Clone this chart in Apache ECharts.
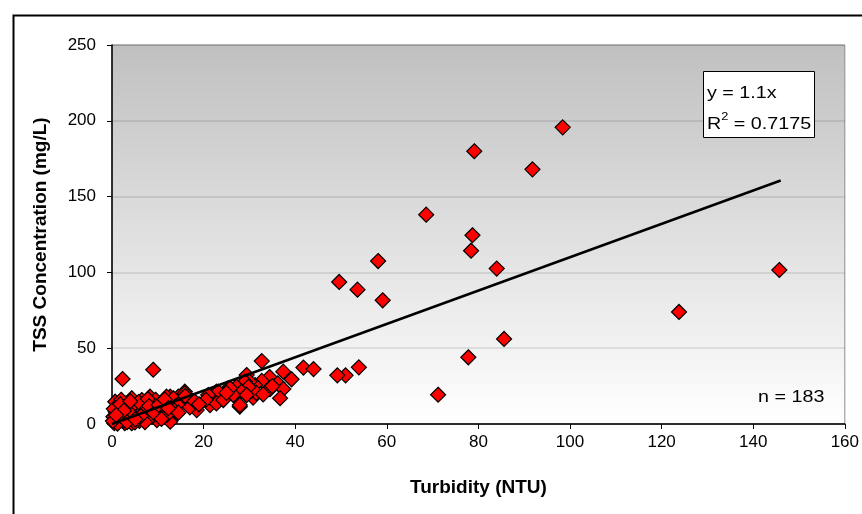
<!DOCTYPE html>
<html>
<head>
<meta charset="utf-8">
<script src="https://cdn.jsdelivr.net/npm/echarts@6/dist/echarts.min.js"></script>
<style>html,body{margin:0;padding:0;background:#fff}#c{width:862px;height:514px}</style>
</head>
<body>
<div id="c"></div>
<script>
const xTicks = [0, 20, 40, 60, 80, 100, 120, 140, 160];
const yTicks = [0, 50, 100, 150, 200, 250];
const slope = 1.1;
const trendX = [0, 146];
const tssPoints = [
  [98.4,195.7],[79.1,179.9],[91.8,168.0],[68.6,138.1],[78.7,124.5],[78.4,114.3],[84.0,102.5],[145.7,101.6],[123.8,73.9],[85.6,56.1],[77.8,44.0],[71.2,19.3],
  [58.1,107.5],[49.6,93.7],[53.6,88.6],[59.1,81.6],[53.9,37.4],[51.0,32.1],[49.2,32.1],
  [32.7,41.5],[41.8,37.2],[44.0,36.2],[37.4,34.5],[34.4,31.0],[39.2,29.5],[32.7,28.4],[36.2,26.8],[37.4,23.1],[34.5,23.0],[36.7,17.0],[30.8,17.4],[27.9,11.4],[31.2,25.7],[29.4,32.3],[30.0,28.0],[29.0,27.9],[30.5,22.0],[31.5,20.5],[29.8,24.5],[33.0,19.5],[35.0,25.0],
  [27.2,24.6],[28.3,21.3],[26.5,19.1],[29.4,19.1],[27.9,12.5],[25.4,23.5],[25.8,23.5],[23.9,17.0],[22.8,21.3],[23.2,21.3],[21.0,19.1],[21.4,12.5],[22.8,13.6],[24.3,15.8],[18.5,9.2],[20.5,16.0],[25.0,20.5],
  [15.9,21.3],[14.5,18.0],[13.0,17.0],[15.9,20.2],[12.7,18.0],[11.9,18.0],[13.4,17.0],[11.9,11.4],[11.2,8.1],[12.7,2.6],[12.7,1.5],[14.0,12.0],[15.0,14.5],[16.5,16.0],[17.0,11.0],[13.5,9.0],[10.5,5.0],[11.0,14.0],[10.0,9.5],[12.0,6.0],[14.5,7.5],[16.0,18.5],[18.0,15.0],[19.0,13.0],
  [2.3,29.7],[9.0,35.8],[0.7,14.7],[4.3,17.0],[6.5,15.8],[8.3,18.0],[1.7,11.4],[3.2,10.3],[5.4,10.3],[7.6,10.3],[9.8,11.4],[4.7,4.8],[7.6,3.7],[9.8,2.6],[1.0,1.5],[2.8,0.5],[4.3,0.5],[0.3,4.8],[1.7,7.0],[0.5,0.5],[1.5,3.0],[2.5,2.0],[3.5,6.0],[5.5,7.5],[6.0,2.0],[7.0,6.5],[8.5,8.0],[9.0,13.5],[8.0,14.0],[6.0,12.5],[3.0,13.5],[2.0,16.0],[5.0,1.0],[0.8,8.0],[1.2,0.2],[0.2,2.0],[3.8,3.5],[4.8,12.0],[6.8,9.0],[8.8,5.0],[7.2,1.2],[2.2,5.5],[9.5,16.0],[5.8,14.5],[3.6,8.2],[0.4,10.0],[1.8,13.0],[6.3,5.3],[4.0,15.0],[7.8,16.5],[2.6,8.8],[0.9,5.9],[3.3,1.2],[5.1,3.1],[8.1,11.8],[9.2,7.1],[10.2,12.6],[11.5,16.2],[12.3,10.4],[10.8,3.3]
];
const eqText = 'y = 1.1x';
const r2Value = '0.7175';
const nText = 'n = 183';

const trendLine = trendX.map(x => [x, +(slope * x).toFixed(2)]);
const font = 'Liberation Sans, Arial, sans-serif';

const chart = echarts.init(document.getElementById('c'));
chart.setOption({
  animation: false,
  backgroundColor: '#ffffff',
  grid: {
    left: 112, top: 45, right: 17, bottom: 90,
    show: true,
    borderColor: '#8c8c8c', borderWidth: 1,
    backgroundColor: {
      type: 'linear', x: 0, y: 0, x2: 0, y2: 1,
      colorStops: [{offset: 0, color: '#c0c0c0'}, {offset: 1, color: '#ffffff'}]
    }
  },
  xAxis: {
    type: 'value', min: 0, max: 160, interval: 20,
    name: 'Turbidity (NTU)', nameLocation: 'middle', nameGap: 54,
    nameTextStyle: {fontFamily: font, fontSize: 19, fontWeight: 'bold', color: '#000'},
    axisLine: {show: true, onZero: false, lineStyle: {color: '#000', width: 1.5}},
    axisTick: {show: true, length: 5, lineStyle: {color: '#000'}},
    axisLabel: {fontFamily: font, fontSize: 17, color: '#000', margin: 10,
      formatter: v => xTicks.includes(v) ? String(v) : ''},
    splitLine: {show: false}
  },
  yAxis: {
    type: 'value', min: 0, max: 250, interval: 50,
    name: 'TSS Concentration (mg/L)', nameLocation: 'middle', nameGap: 62, nameRotate: 90,
    nameTextStyle: {fontFamily: font, fontSize: 19, fontWeight: 'bold', color: '#000'},
    axisLine: {show: true, onZero: false, lineStyle: {color: '#000', width: 1.5}},
    axisTick: {show: true, length: 5, lineStyle: {color: '#000'}},
    axisLabel: {fontFamily: font, fontSize: 17, color: '#000', margin: 16,
      formatter: v => yTicks.includes(v) ? String(v) : ''},
    splitLine: {show: true, lineStyle: {color: 'rgba(0,0,0,0.12)', width: 1.5}}
  },
  series: [
    {
      type: 'scatter', data: tssPoints, symbol: 'diamond', symbolSize: 15,
      itemStyle: {color: '#ff0000', borderColor: '#000', borderWidth: 1.2, opacity: 1},
      z: 2, clip: false
    },
    {
      type: 'line', data: trendLine, showSymbol: false, symbol: 'none',
      lineStyle: {color: '#000', width: 2.5}, z: 3
    }
  ],
  graphic: [
    {type: 'rect', left: 11, top: 13, shape: {width: 900, height: 600},
     style: {fill: 'none', stroke: '#000', lineWidth: 2}, z: 100, silent: true},
    {type: 'rect', left: 703, top: 71, shape: {width: 111, height: 66},
     style: {fill: '#fff', stroke: '#000', lineWidth: 1}, z: 50},
    {type: 'text', x: 707, y: 85, scaleX: 1.16,
     style: {text: eqText, font: '17px ' + font, fill: '#000'}, z: 51},
    {type: 'text', x: 707, y: 111, scaleX: 1.16,
     style: {text: '{a|R}{s|2}{a| = ' + r2Value + '}', fill: '#000',
       rich: {a: {fontFamily: font, fontSize: 17, lineHeight: 22, verticalAlign: 'bottom'},
              s: {fontFamily: font, fontSize: 11, lineHeight: 22, verticalAlign: 'top'}}}, z: 51},
    {type: 'text', x: 758, y: 389, scaleX: 1.16,
     style: {text: nText, font: '17px ' + font, fill: '#000'}, z: 51}
  ]
});
</script>
</body>
</html>
